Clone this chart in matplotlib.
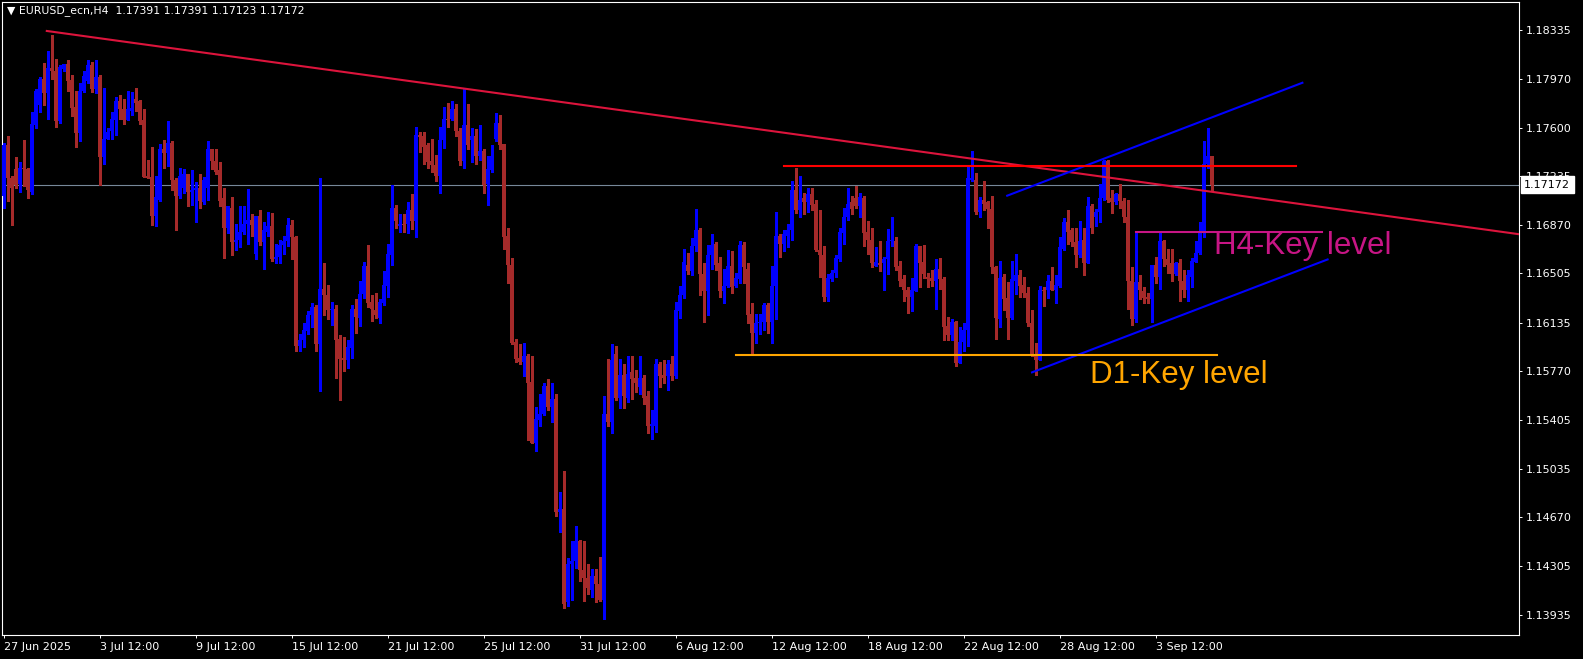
import numpy as np
import matplotlib.pyplot as plt

# H4 candles, 27 Jun 2025 12:00 .. 5 Sep 2025
o = [1.1709, 1.1747, 1.1722, 1.1729, 1.1718, 1.1730, 1.1729, 1.1712, 1.1762, 1.1777,
     1.1797, 1.1786, 1.1805, 1.1803, 1.1765, 1.1804, 1.1808, 1.1796, 1.1776, 1.1756,
     1.1788, 1.1795, 1.1807, 1.1789, 1.1798, 1.1738, 1.1752, 1.1758, 1.1766, 1.1780,
     1.1774, 1.1766, 1.1773, 1.1782, 1.1780, 1.1766, 1.1724, 1.1723, 1.1694, 1.1706,
     1.1744, 1.1741, 1.1749, 1.1721, 1.1709, 1.1715, 1.1725, 1.1712, 1.1713, 1.1715,
     1.1704, 1.1715, 1.1744, 1.1735, 1.1728, 1.1707, 1.1685, 1.1700, 1.1674, 1.1676,
     1.1682, 1.1688, 1.1691, 1.1665, 1.1694, 1.1674, 1.1682, 1.1686, 1.1661, 1.1663,
     1.1672, 1.1675, 1.1687, 1.1678, 1.1596, 1.1600, 1.1607, 1.1619, 1.1625, 1.1597,
     1.1639, 1.1634, 1.1623, 1.1624, 1.1601, 1.1587, 1.1585, 1.1594, 1.1624, 1.1617,
     1.1635, 1.1656, 1.1629, 1.1623, 1.1617, 1.1628, 1.1641, 1.1664, 1.1700, 1.1686,
     1.1688, 1.1688, 1.1698, 1.1690, 1.1755, 1.1754, 1.1747, 1.1735, 1.1732, 1.1724,
     1.1751, 1.1767, 1.1767, 1.1774, 1.1758, 1.1735, 1.1762, 1.1751, 1.1754, 1.1739,
     1.1743, 1.1718, 1.1728, 1.1752, 1.1764, 1.1748, 1.1679, 1.1657, 1.1599, 1.1587,
     1.1584, 1.1588, 1.1569, 1.1523, 1.1540, 1.1545, 1.1566, 1.1550, 1.1556, 1.1471,
     1.1473, 1.1403, 1.1432, 1.1434, 1.1449, 1.1427, 1.1421, 1.1412, 1.1423, 1.1417,
     1.1405, 1.1545, 1.1539, 1.1590, 1.1557, 1.1574, 1.1557, 1.1576, 1.1572, 1.1565,
     1.1572, 1.1558, 1.1536, 1.1536, 1.1582, 1.1574, 1.1573, 1.1582, 1.1573, 1.1622,
     1.1634, 1.1657, 1.1652, 1.1671, 1.1683, 1.1650, 1.1637, 1.1664, 1.1673, 1.1658,
     1.1637, 1.1641, 1.1656, 1.1641, 1.1646, 1.1672, 1.1654, 1.1620, 1.1606, 1.1613,
     1.1614, 1.1627, 1.1614, 1.1641, 1.1679, 1.1673, 1.1679, 1.1683, 1.1713, 1.1698,
     1.1707, 1.1704, 1.1710, 1.1703, 1.1668, 1.1664, 1.1633, 1.1646, 1.1651, 1.1661,
     1.1681, 1.1693, 1.1704, 1.1707, 1.1701, 1.1707, 1.1682, 1.1676, 1.1656, 1.1658,
     1.1658, 1.1661, 1.1675, 1.1675, 1.1656, 1.1646, 1.1638, 1.1633, 1.1637, 1.1671,
     1.1659, 1.1648, 1.1647, 1.1645, 1.1654, 1.1646, 1.1611, 1.1604, 1.1614, 1.1583,
     1.1599, 1.1608, 1.1721, 1.1721, 1.1697, 1.1706, 1.1704, 1.1699, 1.1655, 1.1616,
     1.1648, 1.1632, 1.1617, 1.1645, 1.1649, 1.1642, 1.1636, 1.1613, 1.1588, 1.1585,
     1.1638, 1.1638, 1.1645, 1.1638, 1.1641, 1.1669, 1.1689, 1.1683, 1.1674, 1.1664,
     1.1676, 1.1658, 1.1701, 1.1693, 1.1697, 1.1707, 1.1735, 1.1707, 1.1704, 1.1710,
     1.1705, 1.1693, 1.1645, 1.1616, 1.1644, 1.1637, 1.1633, 1.1631, 1.1657, 1.1648,
     1.1675, 1.1661, 1.1658, 1.1650, 1.1658, 1.1645, 1.1638, 1.1648, 1.1659, 1.1666,
     1.1681, 1.1733, 1.17391]
h = [1.1749, 1.1754, 1.1724, 1.1738, 1.1734, 1.1751, 1.1730, 1.1772, 1.1789, 1.1798,
     1.1809, 1.1818, 1.1830, 1.1812, 1.1807, 1.1808, 1.1811, 1.1800, 1.1788, 1.1794,
     1.1803, 1.1811, 1.1810, 1.1811, 1.1800, 1.1790, 1.1760, 1.1772, 1.1783, 1.1785,
     1.1782, 1.1788, 1.1787, 1.1790, 1.1781, 1.1774, 1.1736, 1.1746, 1.1724, 1.1748,
     1.1751, 1.1765, 1.1750, 1.1722, 1.1730, 1.1729, 1.1725, 1.1728, 1.1719, 1.1725,
     1.1723, 1.1750, 1.1744, 1.1744, 1.1734, 1.1715, 1.1701, 1.1708, 1.1688, 1.1701,
     1.1701, 1.1714, 1.1695, 1.1694, 1.1698, 1.1689, 1.1697, 1.1696, 1.1673, 1.1676,
     1.1679, 1.1692, 1.1691, 1.1679, 1.1605, 1.1613, 1.1622, 1.1628, 1.1627, 1.1722,
     1.1658, 1.1642, 1.1629, 1.1627, 1.1604, 1.1603, 1.1600, 1.1627, 1.1631, 1.1645,
     1.1659, 1.1672, 1.1634, 1.1636, 1.1631, 1.1652, 1.1673, 1.1717, 1.1702, 1.1695,
     1.1695, 1.1704, 1.1710, 1.1761, 1.1757, 1.1757, 1.1749, 1.1752, 1.1740, 1.1761,
     1.1776, 1.1779, 1.1780, 1.1778, 1.1760, 1.1789, 1.1778, 1.1760, 1.1759, 1.1762,
     1.1744, 1.1739, 1.1747, 1.1771, 1.1770, 1.1748, 1.1685, 1.1662, 1.1601, 1.1597,
     1.1598, 1.1590, 1.1588, 1.1550, 1.1560, 1.1568, 1.1571, 1.1568, 1.1560, 1.1486,
     1.1502, 1.1436, 1.1449, 1.1460, 1.1450, 1.1449, 1.1432, 1.1428, 1.1428, 1.1437,
     1.1558, 1.1586, 1.1597, 1.1596, 1.1586, 1.1582, 1.1588, 1.1588, 1.1578, 1.1588,
     1.1574, 1.1562, 1.1548, 1.1586, 1.1584, 1.1585, 1.1585, 1.1588, 1.1629, 1.1641,
     1.1669, 1.1666, 1.1677, 1.1699, 1.1685, 1.1658, 1.1672, 1.1680, 1.1674, 1.1663,
     1.1654, 1.1668, 1.1667, 1.1651, 1.1675, 1.1674, 1.1658, 1.1628, 1.1620, 1.1620,
     1.1628, 1.1628, 1.1656, 1.1697, 1.1680, 1.1683, 1.1688, 1.1720, 1.1730, 1.1724,
     1.1711, 1.1715, 1.1715, 1.1706, 1.1698, 1.1671, 1.1650, 1.1653, 1.1664, 1.1685,
     1.1700, 1.1715, 1.1709, 1.1716, 1.1711, 1.1709, 1.1690, 1.1685, 1.1670, 1.1675,
     1.1663, 1.1684, 1.1693, 1.1678, 1.1660, 1.1649, 1.1640, 1.1647, 1.1673, 1.1671,
     1.1672, 1.1651, 1.1653, 1.1661, 1.1662, 1.1648, 1.1618, 1.1616, 1.1615, 1.1610,
     1.1613, 1.1732, 1.1743, 1.1726, 1.1708, 1.1720, 1.1705, 1.1709, 1.1656, 1.1660,
     1.1650, 1.1644, 1.1660, 1.1665, 1.1653, 1.1648, 1.1640, 1.1623, 1.1598, 1.1641,
     1.1640, 1.1649, 1.1655, 1.1649, 1.1678, 1.1692, 1.1698, 1.1685, 1.1685, 1.1690,
     1.1685, 1.1708, 1.1703, 1.1699, 1.1718, 1.1736, 1.1736, 1.1713, 1.1711, 1.1718,
     1.1707, 1.1706, 1.1655, 1.1682, 1.1649, 1.1640, 1.1636, 1.1657, 1.1663, 1.1681,
     1.1676, 1.1669, 1.1669, 1.1659, 1.1661, 1.1653, 1.1653, 1.1662, 1.1675, 1.1689,
     1.1750, 1.1760, 1.17391]
l = [1.1700, 1.1705, 1.1687, 1.1715, 1.1712, 1.1716, 1.1707, 1.1710, 1.1760, 1.1772,
     1.1777, 1.1767, 1.1797, 1.1761, 1.1764, 1.1803, 1.1788, 1.1769, 1.1746, 1.1750,
     1.1787, 1.1794, 1.1787, 1.1786, 1.1717, 1.1733, 1.1752, 1.1752, 1.1755, 1.1767,
     1.1763, 1.1766, 1.1770, 1.1773, 1.1763, 1.1723, 1.1722, 1.1687, 1.1686, 1.1705,
     1.1730, 1.1731, 1.1713, 1.1683, 1.1707, 1.1711, 1.1701, 1.1702, 1.1689, 1.1700,
     1.1703, 1.1706, 1.1729, 1.1725, 1.1701, 1.1662, 1.1681, 1.1664, 1.1668, 1.1670,
     1.1680, 1.1673, 1.1679, 1.1661, 1.1672, 1.1654, 1.1679, 1.1660, 1.1658, 1.1658,
     1.1665, 1.1671, 1.1661, 1.1592, 1.1592, 1.1595, 1.1605, 1.1610, 1.1592, 1.1562,
     1.1619, 1.1616, 1.1612, 1.1572, 1.1555, 1.1577, 1.1579, 1.1587, 1.1606, 1.1611,
     1.1632, 1.1625, 1.1615, 1.1617, 1.1613, 1.1627, 1.1633, 1.1657, 1.1685, 1.1682,
     1.1682, 1.1681, 1.1684, 1.1678, 1.1742, 1.1733, 1.1730, 1.1727, 1.1720, 1.1711,
     1.1745, 1.1761, 1.1766, 1.1754, 1.1732, 1.1730, 1.1744, 1.1734, 1.1733, 1.1736,
     1.1711, 1.1702, 1.1727, 1.1750, 1.1744, 1.1669, 1.1643, 1.1597, 1.1584, 1.1582,
     1.1573, 1.1525, 1.1523, 1.1517, 1.1536, 1.1544, 1.1548, 1.1539, 1.1468, 1.1456,
     1.1399, 1.1400, 1.1405, 1.1429, 1.1419, 1.1404, 1.1409, 1.1407, 1.1403, 1.1404,
     1.1390, 1.1536, 1.1530, 1.1555, 1.1549, 1.1549, 1.1554, 1.1556, 1.1561, 1.1560,
     1.1552, 1.1530, 1.1526, 1.1531, 1.1565, 1.1568, 1.1563, 1.1570, 1.1572, 1.1617,
     1.1632, 1.1650, 1.1649, 1.1667, 1.1634, 1.1614, 1.1619, 1.1654, 1.1653, 1.1633,
     1.1628, 1.1640, 1.1636, 1.1640, 1.1643, 1.1643, 1.1613, 1.1590, 1.1598, 1.1605,
     1.1608, 1.1606, 1.1598, 1.1616, 1.1663, 1.1667, 1.1670, 1.1676, 1.1696, 1.1693,
     1.1695, 1.1697, 1.1698, 1.1667, 1.1648, 1.1630, 1.1630, 1.1645, 1.1648, 1.1660,
     1.1673, 1.1691, 1.1695, 1.1700, 1.1693, 1.1671, 1.1665, 1.1655, 1.1656, 1.1652,
     1.1638, 1.1650, 1.1671, 1.1653, 1.1641, 1.1630, 1.1621, 1.1622, 1.1637, 1.1640,
     1.1647, 1.1640, 1.1641, 1.1624, 1.1639, 1.1600, 1.1600, 1.1600, 1.1581, 1.1583,
     1.1592, 1.1596, 1.1720, 1.1695, 1.1693, 1.1698, 1.1685, 1.1651, 1.1601, 1.1610,
     1.1623, 1.1601, 1.1616, 1.1635, 1.1633, 1.1633, 1.1611, 1.1588, 1.1574, 1.1585,
     1.1626, 1.1632, 1.1638, 1.1628, 1.1640, 1.1668, 1.1673, 1.1671, 1.1655, 1.1663,
     1.1649, 1.1658, 1.1681, 1.1686, 1.1689, 1.1706, 1.1704, 1.1696, 1.1703, 1.1700,
     1.1689, 1.1624, 1.1612, 1.1614, 1.1631, 1.1628, 1.1628, 1.1614, 1.1643, 1.1639,
     1.1656, 1.1651, 1.1645, 1.1649, 1.1630, 1.1633, 1.1630, 1.1640, 1.1659, 1.1665,
     1.1678, 1.1730, 1.17123]
c = [1.1747, 1.1722, 1.1715, 1.1717, 1.1730, 1.1729, 1.1713, 1.1763, 1.1788, 1.1797,
     1.1786, 1.1805, 1.1803, 1.1765, 1.1806, 1.1808, 1.1795, 1.1775, 1.1756, 1.1788,
     1.1799, 1.1807, 1.1789, 1.1798, 1.1738, 1.1752, 1.1757, 1.1767, 1.1780, 1.1774,
     1.1766, 1.1774, 1.1775, 1.1779, 1.1765, 1.1723, 1.1722, 1.1694, 1.1708, 1.1744,
     1.1741, 1.1749, 1.1721, 1.1709, 1.1724, 1.1725, 1.1712, 1.1713, 1.1715, 1.1705,
     1.1721, 1.1744, 1.1735, 1.1727, 1.1705, 1.1685, 1.1701, 1.1674, 1.1676, 1.1682,
     1.1688, 1.1691, 1.1687, 1.1694, 1.1674, 1.1683, 1.1686, 1.1661, 1.1663, 1.1672,
     1.1675, 1.1687, 1.1678, 1.1596, 1.1600, 1.1608, 1.1619, 1.1625, 1.1597, 1.1639,
     1.1634, 1.1623, 1.1624, 1.1600, 1.1586, 1.1585, 1.1595, 1.1624, 1.1618, 1.1635,
     1.1656, 1.1628, 1.1624, 1.1619, 1.1629, 1.1642, 1.1665, 1.1700, 1.1690, 1.1688,
     1.1687, 1.1698, 1.1690, 1.1755, 1.1753, 1.1746, 1.1734, 1.1732, 1.1724, 1.1751,
     1.1767, 1.1766, 1.1774, 1.1758, 1.1735, 1.1762, 1.1747, 1.1754, 1.1739, 1.1743,
     1.1717, 1.1729, 1.1739, 1.1764, 1.1747, 1.1678, 1.1657, 1.1598, 1.1586, 1.1584,
     1.1588, 1.1568, 1.1523, 1.1541, 1.1545, 1.1566, 1.1550, 1.1556, 1.1471, 1.1473,
     1.1402, 1.1432, 1.1434, 1.1449, 1.1427, 1.1421, 1.1414, 1.1423, 1.1417, 1.1405,
     1.1545, 1.1539, 1.1585, 1.1557, 1.1574, 1.1558, 1.1575, 1.1571, 1.1568, 1.1572,
     1.1557, 1.1536, 1.1537, 1.1582, 1.1573, 1.1572, 1.1582, 1.1573, 1.1623, 1.1634,
     1.1659, 1.1652, 1.1671, 1.1683, 1.1650, 1.1637, 1.1664, 1.1672, 1.1657, 1.1637,
     1.1641, 1.1656, 1.1640, 1.1647, 1.1672, 1.1655, 1.1619, 1.1606, 1.1613, 1.1614,
     1.1627, 1.1614, 1.1641, 1.1679, 1.1673, 1.1680, 1.1683, 1.1713, 1.1698, 1.1706,
     1.1704, 1.1710, 1.1702, 1.1668, 1.1664, 1.1633, 1.1647, 1.1651, 1.1662, 1.1682,
     1.1693, 1.1703, 1.1699, 1.1701, 1.1708, 1.1681, 1.1676, 1.1658, 1.1659, 1.1657,
     1.1661, 1.1675, 1.1676, 1.1655, 1.1645, 1.1638, 1.1633, 1.1638, 1.1671, 1.1658,
     1.1650, 1.1646, 1.1645, 1.1654, 1.1646, 1.1610, 1.1604, 1.1614, 1.1583, 1.1599,
     1.1608, 1.1722, 1.1722, 1.1697, 1.1706, 1.1703, 1.1699, 1.1655, 1.1617, 1.1647,
     1.1631, 1.1617, 1.1646, 1.1649, 1.1641, 1.1636, 1.1613, 1.1588, 1.1585, 1.1638,
     1.1637, 1.1645, 1.1638, 1.1642, 1.1670, 1.1689, 1.1682, 1.1674, 1.1664, 1.1675,
     1.1658, 1.1701, 1.1685, 1.1697, 1.1707, 1.1735, 1.1706, 1.1704, 1.1710, 1.1705,
     1.1693, 1.1645, 1.1616, 1.1644, 1.1638, 1.1632, 1.1631, 1.1657, 1.1648, 1.1675,
     1.1661, 1.1657, 1.1650, 1.1658, 1.1645, 1.1638, 1.1649, 1.1660, 1.1666, 1.1681,
     1.1733, 1.1739, 1.17172]

price_ticks = [1.18335, 1.17970, 1.17600, 1.17235, 1.16870, 1.16505, 1.16135,
               1.15770, 1.15405, 1.15035, 1.14670, 1.14305, 1.13935]
date_bars = [0, 24, 48, 72, 96, 120, 144, 168, 192, 216, 240, 264, 288]
date_labels = ["27 Jun 2025", "3 Jul 12:00", "9 Jul 12:00", "15 Jul 12:00",
               "21 Jul 12:00", "25 Jul 12:00", "31 Jul 12:00", "6 Aug 12:00",
               "12 Aug 12:00", "18 Aug 12:00", "22 Aug 12:00", "28 Aug 12:00",
               "3 Sep 12:00"]
bid = 1.17172

# drawn objects: (bar, price) anchors
trend_down = ([10.7, 378.75], [1.1833, 1.1680])
channel_top = ([250.8, 324.6], [1.1709, 1.1794])
channel_bot = ([257.0, 330.9], [1.1576, 1.1661])
level_red = ([195, 323], 1.1731)
level_d1 = ([182.9, 303.2], 1.1589)
level_h4 = ([282.9, 329.6], 1.1682)

o, h, l, c = map(np.array, (o, h, l, c))
x = np.arange(len(c))
cols = np.where(c >= o, '#0000FF', '#A52A2A')

W, H = 1583, 659
fig = plt.figure(figsize=(W / 100, H / 100), dpi=100, facecolor='black')
ax = fig.add_axes([2 / W, 24 / H, 1517 / W, 633 / H])
ax.set_facecolor('black')

ax.vlines(x, l, h, colors=cols, linewidth=0.75, antialiased=False, zorder=2)
ax.bar(x, np.maximum(np.abs(c - o), 0.00003), bottom=np.minimum(o, c), width=0.8,
       color=cols, linewidth=0, antialiased=False, zorder=3)

ax.axhline(bid, color='#778899', lw=0.8, zorder=1)

# trend line drawn as a ray to the right edge
(x0, x1), (p0, p1) = trend_down
k = (p1 - p0) / (x1 - x0)
ax.plot([x0, 400], [p0, p0 + k * (400 - x0)], color='#DC143C', lw=1.5, zorder=4)
ax.plot(*channel_top, color='#0000FF', lw=1.5, zorder=4)
ax.plot(*channel_bot, color='#0000FF', lw=1.5, zorder=4)
ax.plot(level_red[0], [level_red[1]] * 2, color='#FF0000', lw=1.5, zorder=4)
ax.plot(level_d1[0], [level_d1[1]] * 2, color='#FFA500', lw=1.5, zorder=4)
ax.plot(level_h4[0], [level_h4[1]] * 2, color='#C71585', lw=1.5, zorder=4)

ax.text(302.6, 1.1671, 'H4-Key level', color='#C71585', fontsize=22.5,
        family='Liberation Sans', va='center', ha='left', zorder=5)
ax.text(271.6, 1.1574, 'D1-Key level', color='#FFA500', fontsize=22.5,
        family='Liberation Sans', va='center', ha='left', zorder=5)

ax.set_xlim(-0.5, 378.75)
ax.set_ylim(1.13783, 1.18548)

ax.yaxis.tick_right()
ax.set_yticks(price_ticks, [f'{p:.5f}' for p in price_ticks])
ax.set_xticks(date_bars, date_labels)
for t in ax.get_xticklabels():
    t.set_ha('left')
ax.tick_params(colors='white', labelsize=8, length=2.2, width=0.7, pad=2.5)
for s in ax.spines.values():
    s.set_color('white')
    s.set_linewidth(0.8)

ax.text(1.0035, bid, '1.17172', transform=ax.get_yaxis_transform(), fontsize=8,
        color='black', ha='left', va='center', clip_on=False, zorder=10,
        bbox=dict(boxstyle='square,pad=0.3', fc='white', ec='white'))

fig.text(7 / W, 1 - 11 / H, '\u25bc EURUSD_ecn,H4  1.17391 1.17391 1.17123 1.17172',
         color='white', fontsize=7.8, va='center', ha='left')

fig.savefig('out.png', dpi=100, facecolor='black')
